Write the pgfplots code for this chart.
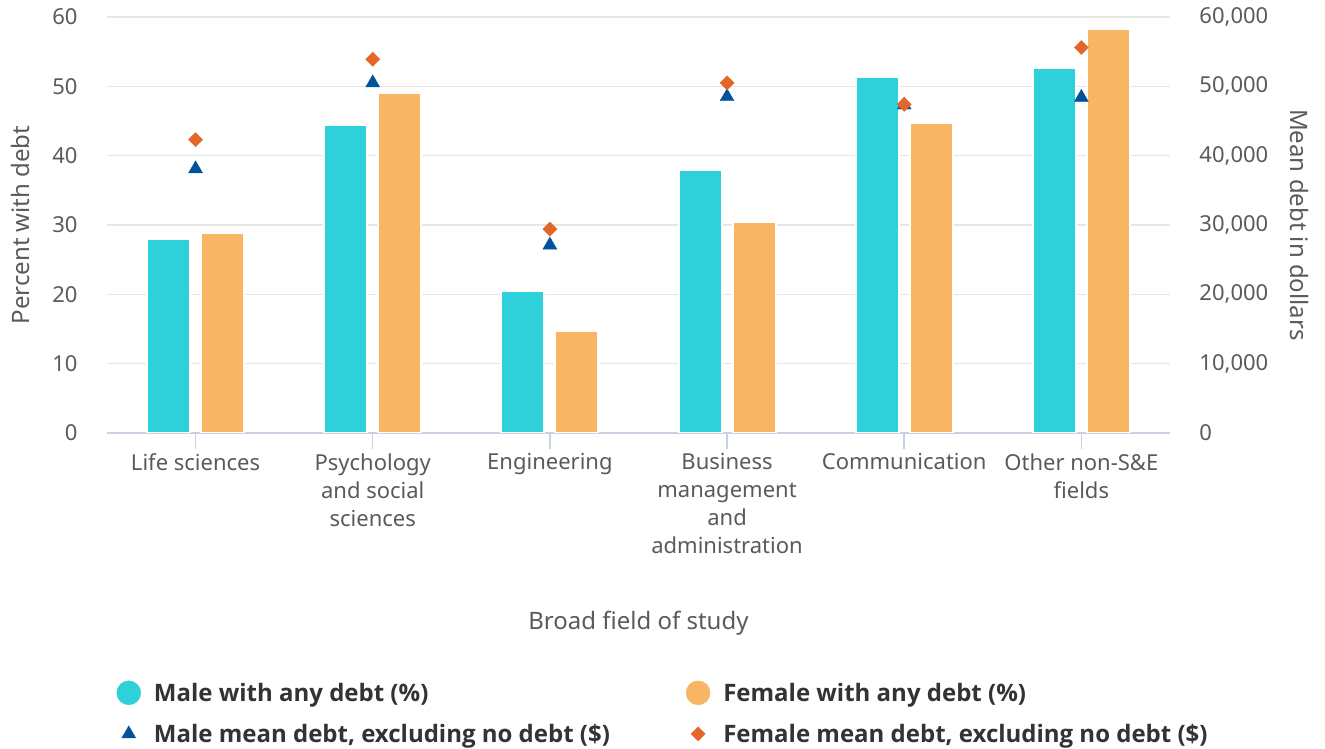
\documentclass[border=0pt]{standalone}
\usepackage{pgfplots}
\pgfplotsset{compat=1.18}
\usepackage{fontspec}
\setmainfont{Noto Sans}
\newfontfamily\legfont{Open Sans}
\definecolor{barM}{HTML}{2ED1D9}
\definecolor{barF}{HTML}{F8B563}
\definecolor{mkM}{HTML}{00539B}
\definecolor{mkF}{HTML}{E3672A}
\definecolor{txt}{HTML}{5A5A5A}
\definecolor{gridc}{HTML}{E6E6E6}
\definecolor{axc}{HTML}{C9D1E3}
\begin{document}
\begin{tikzpicture}
\path[use as bounding box] (0,0) rectangle (1325pt,749pt);
\pgfplotsset{
  common/.style={
    at={(107pt,316pt)}, anchor=south west,
    scale only axis, width=1063pt, height=416pt,
    xmin=-0.5, xmax=5.5,
    ymin=0,
    tick align=outside,
    major tick length=16pt,
    ytick style={draw=none},
    ticklabel style={font=\fontsize{22}{28}\selectfont, text=txt},
    label style={font=\fontsize{24}{28}\selectfont, text=txt},
    /pgf/number format/assume math mode=true,
    /pgf/number format/1000 sep={,},
    scaled y ticks=false,
  }
}
\begin{axis}[common,
  ymax=60, ytick={0,10,...,60},
  xtick={0,1,2,3,4,5},
  xticklabels={Life sciences,{Psychology\\and social\\sciences},Engineering,{Business\\management\\and\\administration},Communication,{Other non-S\&E\\fields}},
  xticklabel style={align=center, anchor=north, yshift=-1pt},
  xtick style={draw=axc, line width=1.5pt},
  axis x line*=bottom,
  axis y line*=left,
  x axis line style={draw=axc, line width=2pt, -},
  y axis line style={draw=none},
  yticklabel style={anchor=east, xshift=-10pt},
  ymajorgrids, grid style={gridc, line width=1.5pt},
  ylabel={Percent with debt},
  ylabel style={at={(axis description cs:-0.0818,0.5)}, anchor=center},
  xlabel={Broad field of study},
  xlabel style={at={(axis description cs:0.5,-0.4567)}, anchor=center},
  ybar=11pt, bar width=43pt,
]
\addplot[fill=barM, draw=white, line width=2pt] coordinates {(0,28.0) (1,44.4) (2,20.5) (3,38.0) (4,51.3) (5,52.7)};
\addplot[fill=barF, draw=white, line width=2pt] coordinates {(0,28.9) (1,49.0) (2,14.7) (3,30.5) (4,44.7) (5,58.2)};
\end{axis}
\begin{axis}[common,
  ymax=60000, ytick={0,10000,...,60000},
  axis x line=none,
  axis y line*=right,
  y axis line style={draw=none},
  yticklabel style={anchor=west, xshift=10pt},
  ylabel={Mean debt in dollars},
  ylabel style={at={(axis description cs:1.1223,0.5)}, anchor=center, rotate=180},
  legend columns=2,
  legend cell align=left,
  legend style={draw=none, fill=none, at={(axis description cs:0.006,-0.59)}, anchor=north west,
    font=\fontsize{24}{26}\selectfont\legfont\bfseries, text=black!80,
    column sep=11pt, row sep=17pt,
    /tikz/every even column/.append style={column sep=74pt}},
  legend image code/.code={\draw[#1] plot coordinates {(0pt,0pt)};},
]
\addlegendimage{legend image code/.code={\fill[barM] (0pt,0pt) circle (12pt);}}
\addlegendentry{Male with any debt (\%)}
\addlegendimage{legend image code/.code={\fill[barF] (0pt,0pt) circle (12pt);}}
\addlegendentry{Female with any debt (\%)}
\addplot[only marks, mark=triangle*, mark size=8pt, mkM, mark options={draw=mkM, fill=mkM}]
  coordinates {(0,38100) (1,50500) (2,27100) (3,48500) (4,47300) (5,48400)};
\addlegendentry{Male mean debt, excluding no debt (\$)}
\addplot[only marks, mark=square*, mark size=5pt, mkF, mark options={draw=mkF, fill=mkF, rotate=45}]
  coordinates {(0,42300) (1,53900) (2,29400) (3,50500) (4,47400) (5,55600)};
\addlegendentry{Female mean debt, excluding no debt (\$)}
\end{axis}
\end{tikzpicture}
\end{document}
